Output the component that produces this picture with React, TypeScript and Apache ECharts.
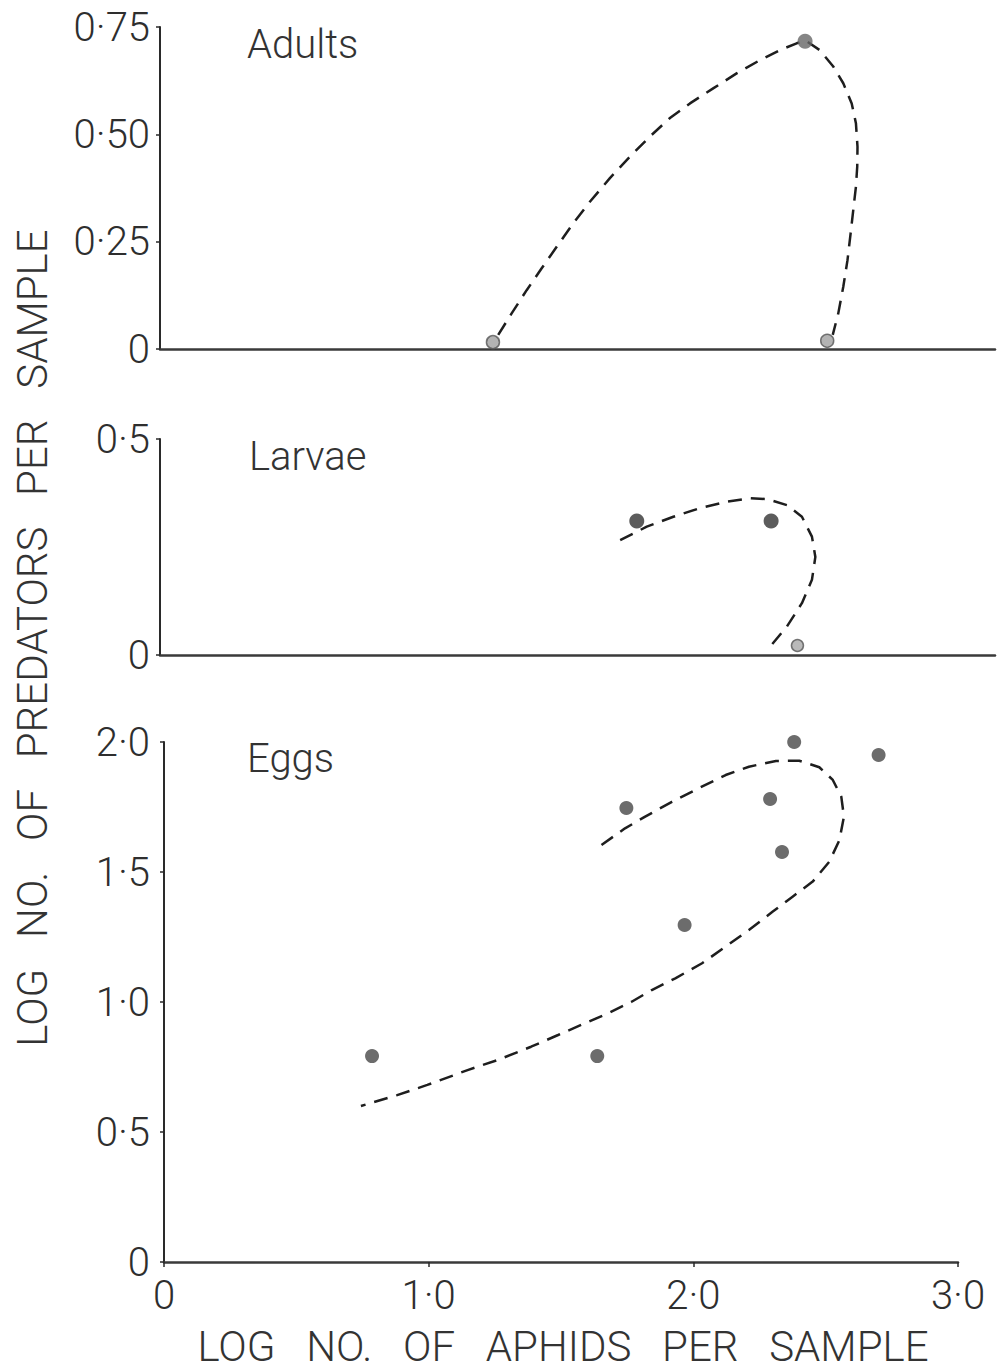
import React, { useEffect, useRef } from "react";
import * as echarts from "echarts";

// ---- Tick labels ----
const xTickLabels: Record<string, string> = { "0": "0", "1": "1·0", "2": "2·0", "3": "3·0" };
const adultsYTickLabels: Record<string, string> = { "0": "0", "0.25": "0·25", "0.5": "0·50", "0.75": "0·75" };
const larvaeYTickLabels: Record<string, string> = { "0": "0", "0.5": "0·5" };
const eggsYTickLabels: Record<string, string> = { "0": "0", "0.5": "0·5", "1": "1·0", "1.5": "1·5", "2": "2·0" };

// ---- Panel names & titles ----
const panelNames = ["Adults", "Larvae", "Eggs"];
const yTitle = "LOG   NO.   OF   PREDATORS   PER   SAMPLE";
const xTitle = "LOG   NO.   OF   APHIDS   PER   SAMPLE";

// ---- Adults ----
const adultsZeroPoints = [
  [1.234, 0.016],
  [2.503, 0.019],
];
const adultsPoints = [[2.419, 0.717]];
const adultsCurve = [
  [1.254, 0.033], [1.305, 0.083], [1.362, 0.137], [1.419, 0.188], [1.476, 0.238],
  [1.539, 0.293], [1.602, 0.343], [1.678, 0.398], [1.754, 0.448], [1.83, 0.495],
  [1.906, 0.538], [1.982, 0.572], [2.07, 0.607], [2.159, 0.642], [2.248, 0.673],
  [2.323, 0.696], [2.387, 0.712], [2.422, 0.718],
  [2.475, 0.696], [2.526, 0.658], [2.564, 0.619], [2.596, 0.572], [2.612, 0.526],
  [2.618, 0.471], [2.617, 0.425], [2.612, 0.378], [2.602, 0.324], [2.592, 0.27],
  [2.58, 0.207], [2.564, 0.145], [2.545, 0.083], [2.524, 0.033],
];

// ---- Larvae ----
const larvaePoints = [
  [1.78, 0.31],
  [2.29, 0.31],
];
const larvaeZeroPoints = [[2.39, 0.022]];
const larvaeCurve = [
  [1.717, 0.266], [1.818, 0.297], [1.919, 0.32], [2.02, 0.34], [2.122, 0.355],
  [2.21, 0.363], [2.274, 0.361], [2.35, 0.347], [2.407, 0.32], [2.445, 0.274],
  [2.458, 0.227], [2.445, 0.174], [2.407, 0.12], [2.35, 0.066], [2.286, 0.019],
];

// ---- Eggs ----
const eggsPoints = [
  [0.786, 0.792],
  [1.637, 0.792],
  [1.747, 1.746],
  [1.967, 1.296],
  [2.29, 1.781],
  [2.335, 1.577],
  [2.381, 2.0],
  [2.7, 1.95],
];
const eggsCurve = [
  [1.653, 1.604], [1.742, 1.668], [1.818, 1.713], [1.919, 1.77], [2.02, 1.822],
  [2.122, 1.873], [2.21, 1.905], [2.312, 1.927], [2.4, 1.928], [2.476, 1.903],
  [2.527, 1.854], [2.559, 1.79], [2.569, 1.713], [2.552, 1.623], [2.514, 1.54],
  [2.451, 1.463], [2.375, 1.405], [2.299, 1.347], [2.21, 1.277], [2.122, 1.213],
  [2.033, 1.149], [1.932, 1.091], [1.843, 1.046], [1.767, 1.001], [1.679, 0.957],
  [1.59, 0.918], [1.489, 0.873], [1.387, 0.828], [1.261, 0.777], [1.147, 0.738],
  [0.995, 0.681], [0.881, 0.642], [0.744, 0.6],
];

const FONT = "Roboto";
const INK = "#2a2a2a";

export default function App() {
  const ref = useRef<HTMLDivElement>(null);

  useEffect(() => {
    if (!ref.current) return;
    const chart = echarts.init(ref.current, undefined, { renderer: "svg" });

    const axisLabelBase = {
      fontFamily: FONT,
      fontWeight: 300 as any,
      fontSize: 40,
      color: "#2e2e2e",
    };
    const fmt = (map: Record<string, string>) => (v: number) => {
      const k = String(Math.round(v * 100) / 100);
      return map[k] ?? "";
    };

    const topXAxis = (gridIndex: number) => ({
      type: "value",
      gridIndex,
      min: -0.03,
      max: 3.14,
      axisLine: { show: true, onZero: false, lineStyle: { color: "#3a3a3a", width: 2.5 } },
      axisTick: { show: false },
      axisLabel: { show: false },
      splitLine: { show: false },
    });

    const yAxisBase = (gridIndex: number, max: number, interval: number, map: Record<string, string>, margin: number) => ({
      type: "value",
      gridIndex,
      min: 0,
      max,
      interval,
      axisLine: { show: true, onZero: false, lineStyle: { color: INK, width: 2 } },
      axisTick: { show: true, length: 4, lineStyle: { color: INK, width: 1.5 } },
      axisLabel: { ...axisLabelBase, margin, formatter: fmt(map) },
      splitLine: { show: false },
    });

    const dashed = { color: "#1e1e1e", width: 2.5, type: [14, 9] as any };

    const option: any = {
      animation: false,
      backgroundColor: "#ffffff",
      grid: [
        { left: 160, top: 27, width: 835, height: 322 },
        { left: 160, top: 439, width: 835, height: 216 },
        { left: 164, top: 742, width: 794, height: 520 },
      ],
      xAxis: [
        topXAxis(0),
        topXAxis(1),
        {
          type: "value",
          gridIndex: 2,
          min: 0,
          max: 3,
          interval: 1,
          axisLine: { show: true, onZero: false, lineStyle: { color: "#3a3a3a", width: 2.5 } },
          axisTick: { show: true, length: 5, lineStyle: { color: INK, width: 1.5 } },
          axisLabel: { ...axisLabelBase, margin: 13, formatter: fmt(xTickLabels) },
          splitLine: { show: false },
        },
      ],
      yAxis: [
        yAxisBase(0, 0.75, 0.25, adultsYTickLabels, 10),
        yAxisBase(1, 0.5, 0.5, larvaeYTickLabels, 10),
        yAxisBase(2, 2, 0.5, eggsYTickLabels, 14),
      ],
      series: [
        {
          type: "line", xAxisIndex: 0, yAxisIndex: 0, data: adultsCurve,
          showSymbol: false, smooth: false, lineStyle: dashed, z: 2,
        },
        {
          type: "scatter", xAxisIndex: 0, yAxisIndex: 0, data: adultsZeroPoints,
          symbolSize: 13, itemStyle: { color: "#a0a0a0", borderColor: "#555", borderWidth: 1.5 }, z: 3,
        },
        {
          type: "scatter", xAxisIndex: 0, yAxisIndex: 0, data: adultsPoints,
          symbolSize: 15, itemStyle: { color: "#666" }, z: 3,
        },
        {
          type: "line", xAxisIndex: 1, yAxisIndex: 1, data: larvaeCurve,
          showSymbol: false, smooth: false, lineStyle: dashed, z: 2,
        },
        {
          type: "scatter", xAxisIndex: 1, yAxisIndex: 1, data: larvaePoints,
          symbolSize: 15, itemStyle: { color: "#333" }, z: 3,
        },
        {
          type: "scatter", xAxisIndex: 1, yAxisIndex: 1, data: larvaeZeroPoints,
          symbolSize: 12, itemStyle: { color: "#a8a8a8", borderColor: "#555", borderWidth: 1.5 }, z: 3,
        },
        {
          type: "line", xAxisIndex: 2, yAxisIndex: 2, data: eggsCurve,
          showSymbol: false, smooth: false, lineStyle: dashed, z: 2,
        },
        {
          type: "scatter", xAxisIndex: 2, yAxisIndex: 2, data: eggsPoints,
          symbolSize: 14, itemStyle: { color: "#474747" }, z: 3,
        },
      ],
      graphic: [
        {
          type: "text", left: 247, top: 24,
          style: { text: panelNames[0], fontFamily: FONT, fontWeight: 300, fontSize: 40, fill: "#333" },
        },
        {
          type: "text", left: 249, top: 436,
          style: { text: panelNames[1], fontFamily: FONT, fontWeight: 300, fontSize: 40, fill: "#333" },
        },
        {
          type: "text", left: 247, top: 738,
          style: { text: panelNames[2], fontFamily: FONT, fontWeight: 300, fontSize: 40, fill: "#333" },
        },
        {
          type: "text", x: 32, y: 638, rotation: Math.PI / 2,
          style: {
            text: yTitle, fontFamily: FONT, fontWeight: 300, fontSize: 42, fill: "#333",
            align: "center", verticalAlign: "middle",
          },
        },
        {
          type: "text", x: 563, y: 1346,
          style: {
            text: xTitle, fontFamily: FONT, fontWeight: 300, fontSize: 42, fill: "#333",
            align: "center", verticalAlign: "middle",
          },
        },
      ],
    };

    chart.setOption(option);
    return () => chart.dispose();
  }, []);

  return (
    <div
      ref={ref}
      style={{ position: "absolute", left: 0, top: 0, width: 1002, height: 1371, background: "#fff" }}
    />
  );
}
